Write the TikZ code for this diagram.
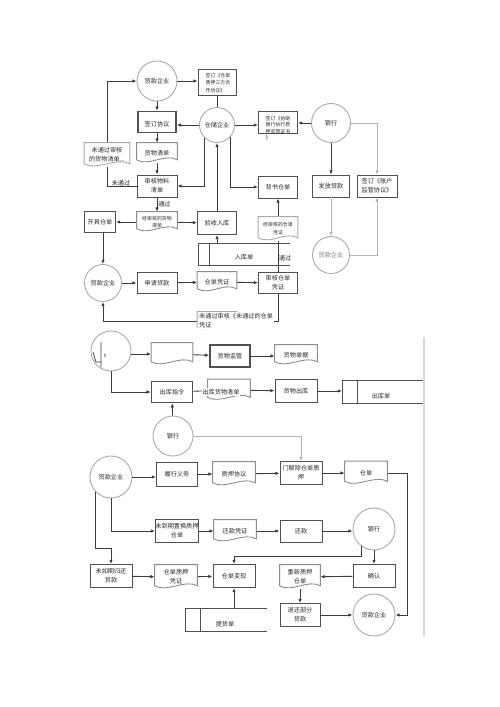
\documentclass[tikz,border=0pt]{standalone}
\usepackage{fontspec}
\newfontfamily\cjk{Noto Sans CJK SC}
\usetikzlibrary{arrows.meta,calc}
\definecolor{linegray}{HTML}{3C3C3C}
\definecolor{boxgray}{HTML}{505050}
\definecolor{docgray}{HTML}{8C8C8C}
\definecolor{circgray}{HTML}{A8A8A8}
\definecolor{faintgray}{HTML}{B4B4B4}
\definecolor{pagegray}{HTML}{D8D8D8}
\definecolor{txtgray}{HTML}{2A2A2A}
\newcommand{\txt}{\cjk\fontsize{3.5}{5}\selectfont\color{txtgray}}
\newcommand{\stxt}{\cjk\fontsize{2.8}{3.6}\selectfont\color{txtgray}}

\begin{document}
\begin{tikzpicture}[x=0.02cm,y=-0.02cm,
    box/.style={draw=boxgray,line width=0.55pt,inner sep=0.5pt,font=\txt,align=center,minimum width=0.8cm,minimum height=0.44cm},
    boxthick/.style={box,line width=0.9pt},
    docu/.style={inner sep=0.5pt,font=\txt,align=center,minimum width=0.82cm,minimum height=0.44cm},
    ent/.style={circle,draw=circgray,line width=0.5pt,inner sep=0pt,minimum size=0.76cm,font=\txt},
    lbl/.style={inner sep=0.5pt,font=\txt},
    arr/.style={draw=linegray,line width=0.5pt,-{Latex[length=2.4pt,width=2pt]}},
    ln/.style={draw=linegray,line width=0.5pt},
    farr/.style={arr,draw=faintgray},
    fln/.style={ln,draw=faintgray},
    docline/.style={draw=docgray,line width=0.5pt},
    storeline/.style={draw=boxgray,line width=0.55pt}]

            \useasboundingbox (0,0) rectangle (500,707);
            \fill[white] (0,0) rectangle (500,707);

            \node[ent,minimum size=0.8cm] (qya) at (157,81) {贷款企业};
            \node[box,minimum width=0.76cm,minimum height=0.52cm] (sfxy) at (217,82) {};
            \node[lbl,font=\stxt,anchor=north,align=left] (sfxyt) at (218,72) {签订《仓单\\[0.6pt]质押三方合\\[0.6pt]作协议》};
            \node[boxthick,minimum width=0.76cm,minimum height=0.42cm] (qdxy) at (157,122) {\mbox{}\\签订协议};
            \node[ent,minimum size=0.7cm] (cc) at (217,125) {仓储企业};
            \node[box,minimum width=0.78cm,minimum height=0.44cm] (xzxy) at (278,122) {};
            \node[lbl,font=\stxt,anchor=north,align=left] (xzxyt) at (278,115) {签订《协助\\银行执行质\\押监管证书\\》};
            \node[ent,minimum size=0.78cm] (yh1) at (331,123) {银行};

            \node[docu,minimum width=0.8cm,minimum height=0.4cm] (hwqd) at (157,153) {货物清单};
            \node[docu,minimum width=0.9cm,minimum height=0.48cm] (wtgqd) at (107,155) {未通过审核\\的货物清单...};
            \node[box,minimum width=0.8cm,minimum height=0.44cm] (shwl) at (157,186) {审核物料\\清单};
            \node[lbl] (wtg1) at (121,183) {未通过};
            \node[box,minimum width=0.78cm,minimum height=0.44cm] (bscd) at (278,187) {背书仓单};
            \node[box,minimum width=0.74cm,minimum height=0.44cm] (ffdk) at (331,186) {发放贷款};
            \node[box,minimum width=0.8cm,minimum height=0.44cm] (zhxy) at (377,186) {签订《账户\\监管协议》};

            \node[docu,font=\stxt,minimum width=0.8cm,minimum height=0.4cm] (jshqd) at (157,222) {经审核的货物\\[0.6pt]清单};
            \node[box,minimum width=0.62cm,minimum height=0.42cm] (kjcd) at (100,222) {开具仓单};
            \node[box,minimum width=0.78cm,minimum height=0.46cm] (ysrk) at (217,223) {验收入库};
            \node[docu,font=\stxt,minimum width=0.78cm,minimum height=0.48cm] (jshpz) at (278,229) {经审核的仓单\\[1pt]凭证};
            \node[ent,minimum size=0.74cm,text=gray] (qyb) at (331,255) {贷款企业};
            \node[lbl] (rkd) at (244,257) {入库单};
            \coordinate (rktop) at (217,243);

            \node[ent,minimum size=0.74cm] (qyc) at (103,283) {贷款企业};
            \node[box,minimum width=0.8cm,minimum height=0.42cm] (sqdk) at (157,283) {申请贷款};
            \node[docu,minimum width=0.78cm,minimum height=0.4cm] (cdpz) at (217,282) {仓单凭证};
            \node[box,minimum width=0.78cm,minimum height=0.42cm] (shpz) at (278,283) {审核仓单\\凭证};
            \node[lbl] (tg2) at (285,258) {通过};
            \node[docu,minimum width=0.78cm,minimum height=0.36cm] (wtgpz) at (217,321) {};

            \draw[storeline] (290,243) -- (198,243) -- (198,265) -- (290,265) (209,243) -- (209,265);

            \draw[arr] (qya.east) -- (qya.east -| sfxy.west);
            \draw[arr] (qya.south) -- (qdxy.north);
            \draw[arr] (cc.west) -- (cc.west -| qdxy.east);
            \draw[ln] (cc.north) -- (sfxy.south);
            \draw[arr] (cc.east) -- (cc.east -| xzxy.west);
            \draw[arr] (yh1.west) -- (yh1.west -| xzxy.east);
            \draw[farr] (yh1.east) -| (zhxy.north);
            \draw[arr] (yh1.south) -- (ffdk.north);
            \draw[farr] (ffdk.south) -- (qyb.north);
            \draw[farr] (qyb.east) -| (zhxy.south);
            \draw[arr] (qdxy) -- (hwqd);
            \draw[arr] (hwqd) -- (shwl);
            \draw[arr] (shwl) -- node[lbl,right,pos=0.45] (tg1) {通过} (jshqd);
            \draw[ln] (shwl.west) -| (wtgqd.south);
            \draw[arr] (wtgqd.north) |- (qya.west);
            \draw[arr] (jshqd) -- (kjcd);
            \draw[arr] (jshqd) -- (ysrk);
            \draw[arr] (rktop) -- (ysrk.south);
            \draw[arr] (ysrk.north) -- (cc.south);
            \draw[arr] (cc.south west) |- (shwl.east);
            \draw[arr] (cc.-40) |- (bscd.west);
            \draw[arr] (kjcd.south -| qyc.north) -- (qyc.north);
            \draw[arr] (qyc.east) -- (qyc.east -| sqdk.west);
            \draw[arr] (sqdk) -- (cdpz);
            \draw[arr] (cdpz) -- (shpz);
            \draw[ln] (shpz.north) -- (jshpz.south);
            \draw[arr] (jshpz) -- (bscd);
            \draw[ln] (shpz.south) |- (wtgpz.east);
            \draw[arr] (wtgpz.west) -| (qyc.south);

            \begin{scope}
                \clip (90,325) rectangle (140,376);
                \node[ent,minimum size=0.8cm] (yqd) at (111,351) {};
            \end{scope}
            \draw[ln,line width=0.4pt] (93,352) -- (96,362) -- (101,362) (101,342) -- (101,367);
            \node[lbl,font=\stxt] (yqdt) at (105,356) {¢};

            \node[docu,minimum width=0.82cm,minimum height=0.44cm] (blk) at (172,354) {};
            \node[boxthick,minimum width=0.8cm,minimum height=0.44cm] (hwjg) at (230,356) {货物监管};
            \node[docu,minimum width=0.84cm,minimum height=0.4cm] (hwdj) at (296,355) {货物单据};
            \node[boxthick,minimum width=0.82cm,minimum height=0.42cm] (ckzl) at (172,392) {出库指令};
            \node[docu,minimum width=0.84cm,minimum height=0.42cm] (ckqd) at (229,390) {};
            \node[box,minimum width=0.84cm,minimum height=0.46cm] (hwck) at (296,391) {货物出库};
            \node[lbl] (ckd) at (381,396) {出库单};
            \coordinate (ckdin) at (342,391);
            \node[ent,minimum size=0.8cm] (yh2) at (173,436) {银行};

            \node[ent,minimum size=0.84cm] (yqe) at (111,477) {贷款企业};
            \node[box,minimum width=0.82cm,minimum height=0.48cm] (lxyw) at (177,474) {履行义务};
            \node[docu,minimum width=0.84cm,minimum height=0.48cm] (zyxy) at (234,474) {质押协议};
            \node[box,minimum width=0.84cm,minimum height=0.46cm] (jccd) at (301,473) {门解除仓单质\\押};
            \node[docu,minimum width=0.84cm,minimum height=0.46cm] (cd) at (366,473) {仓单};

            \node[box,inner xsep=0pt,minimum width=0.82cm,minimum height=0.46cm] (zhzy) at (177,531) {未到期置换质押\\仓单};
            \node[docu,minimum width=0.84cm,minimum height=0.44cm] (hkpz) at (235,531) {还款凭证};
            \node[box,minimum width=0.84cm,minimum height=0.44cm] (hk) at (301,531) {还款};
            \node[ent,minimum size=0.84cm] (yh3) at (374,529) {银行};
            \coordinate (turn) at (111,548);

            \node[box,minimum width=0.84cm,minimum height=0.46cm] (whdk) at (111,576) {未如期归还\\贷款};
            \node[docu,minimum width=0.84cm,minimum height=0.48cm] (zypz) at (176,577) {仓单质押\\凭证};
            \node[box,minimum width=0.84cm,minimum height=0.46cm] (cdbx) at (234,576) {仓单变现};
            \node[docu,minimum width=0.8cm,minimum height=0.48cm] (cxzy) at (300,577) {重新质押\\仓单};
            \node[box,minimum width=0.84cm,minimum height=0.46cm] (qr) at (374,576) {确认};
            \node[box,minimum width=0.8cm,minimum height=0.46cm] (thdk) at (300,615) {退还部分\\贷款};
            \node[ent,minimum size=0.84cm] (yqf) at (374,615) {贷款企业};
            \node[lbl] (thd) at (225,624) {提货单};
            \coordinate (thdtop) at (234,608);

            \draw[storeline] (424,380) -- (342,380) -- (342,403) -- (424,403) (357,380) -- (357,403);
            \draw[storeline] (267,608) -- (185,608) -- (185,631) -- (267,631) (200,608) -- (200,631);
            \draw[draw=pagegray,line width=0.6pt] (424,337) -- (424,636);

            \draw[arr] (yqd.east |- blk.west) -- (blk.west);
            \draw[arr] (blk) -- (hwjg);
            \draw[arr] (hwjg.east) -- (hwjg.east -| hwdj.west);
            \draw[arr] (yqd.south) |- (ckzl.west);
            \draw[ln] (ckzl) -- (ckqd);
            \draw[arr] (ckqd) -- (hwck);
            \draw[arr] (hwck.east) -- (ckdin);
            \draw[arr] (yh2) -- (ckzl);
            \draw[farr] (yh2.east) -| (jccd.north);

            \draw[arr] (yqe.east) -- (yqe.east -| lxyw.west);
            \draw[arr] (lxyw) -- (zyxy);
            \draw[arr] (zyxy) -- (jccd);
            \draw[arr] (jccd) -- (cd);
            \draw[arr] (cd.east) -- ++(20,0) |- (yqf.east);
            \draw[arr] (yqe.south) |- (zhzy.west);
            \draw[arr] (yqe.south west) |- (turn) -- (whdk.north);
            \draw[arr] (zhzy) -- (hkpz);
            \draw[arr] (hkpz) -- (hk);
            \draw[arr] (hk.east) -- (hk.east -| yh3.west);
            \draw[arr] (yh3) -- (qr);
            \draw[arr] (qr) -- (cxzy);
            \draw[arr] (cxzy) -- (thdk);
            \draw[arr] (thdk) -- (yqf);
            \draw[arr] (yh3.233) |- ($(cdbx.north)+(0,-8)$) -- (cdbx.north);
            \draw[arr] (whdk) -- (zypz);
            \draw[arr] (zypz) -- (cdbx);
            \draw[arr] (thdtop) -- (cdbx.south);

            \foreach \d in {hwqd,jshqd,cdpz,blk,hwdj,ckqd,zyxy,cd,hkpz,zypz,cxzy}
                \draw[docline] (\d.north west) -- ([yshift=2pt]\d.south west) .. controls ([xshift=0.25cm,yshift=-2pt]\d.south west) and ([xshift=-0.25cm,yshift=6pt]\d.south east) .. ([yshift=2pt]\d.south east) -- (\d.north east) -- cycle;
            \foreach \d in {wtgqd,jshpz,wtgpz}
                \draw[docline,draw=circgray] (\d.north west) -- ([yshift=2pt]\d.south west) .. controls ([xshift=0.25cm,yshift=-2pt]\d.south west) and ([xshift=-0.25cm,yshift=6pt]\d.south east) .. ([yshift=2pt]\d.south east) -- (\d.north east) -- cycle;
            \node[lbl,anchor=north west,align=left,fill=white] (wtgpzt) at (198,312) {未通过审核《未通过的仓单\\凭证};
            \node[lbl,fill=white] (ckqdt) at (221,392) {出库货物清单};
        \end{tikzpicture}
\end{document}
